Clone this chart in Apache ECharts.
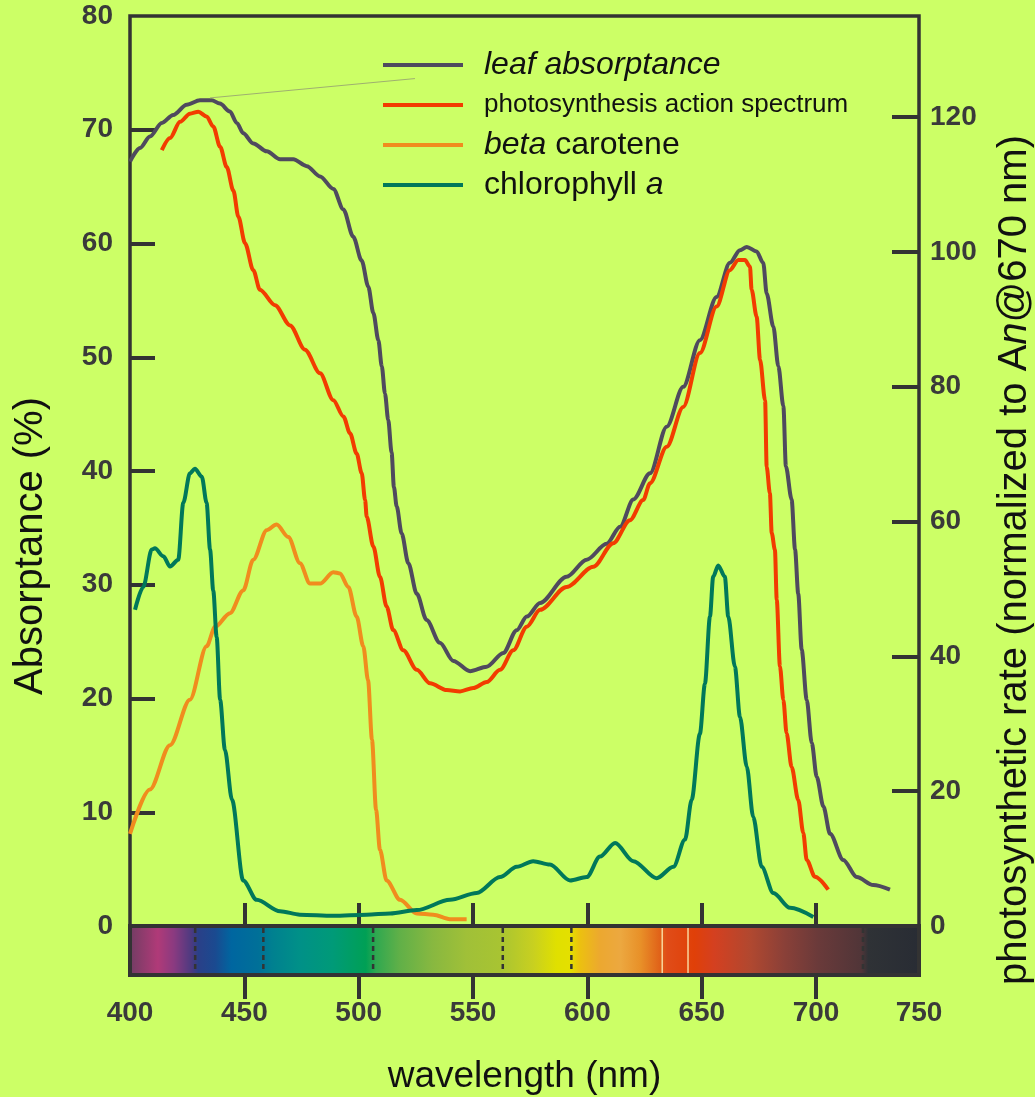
<!DOCTYPE html>
<html>
<head>
<meta charset="utf-8">
<title>Leaf absorptance and photosynthesis action spectrum</title>
<script src="https://cdn.jsdelivr.net/npm/echarts@6.0.0/dist/echarts.min.js"></script>
<style>
  html, body { margin: 0; padding: 0; background: #ccff66; }
  #chart { width: 1035px; height: 1097px; }
</style>
</head>
<body>
<div id="chart"></div>
<script>
// wavelength (nm), value
const leafAbsorptance = [
  [400, 67.2], [404.4, 68.4], [408.7, 69.4], [413.9, 70.6], [418.9, 71.3], [424.8, 72.2],
  [430.6, 72.6], [435.7, 72.6], [439.3, 72.3], [443.7, 71.6], [446.7, 70.6], [449.5, 69.7],
  [453.9, 68.8], [459.8, 68.1], [465.6, 67.4], [471.4, 67.4], [477.3, 66.8], [483.1, 65.9],
  [488.9, 64.8], [493.3, 63.0], [497.6, 60.6], [501.3, 58.5], [504.2, 56.2], [506.4, 53.9],
  [508.6, 51.5], [510.1, 49.2], [511.5, 46.8], [512.9, 44.5], [514.4, 41.6], [515.4, 38.6],
  [516.6, 36.9], [518.8, 34.5], [521.7, 31.9], [525.4, 29.2], [529.7, 26.9], [535.5, 24.9],
  [541.4, 23.3], [548.7, 22.4], [556.0, 22.8], [563.2, 24.0], [569.1, 26.0], [573.5, 27.2],
  [579.3, 28.4], [590.9, 30.7], [599.7, 32.2], [608.4, 33.6], [614.3, 35.1], [620.1, 37.5],
  [627.4, 39.8], [634.7, 43.9], [641.9, 47.4], [649.2, 51.5], [656.5, 55.3], [662.3, 58.3],
  [666.7, 59.4], [669.7, 59.7], [674.0, 59.3], [676.9, 58.3], [678.4, 55.6], [681.3, 52.7],
  [683.5, 49.2], [685.7, 45.7], [686.8, 40.4], [689.3, 37.5], [690.8, 33.1], [692.2, 29.2],
  [693.7, 24.3], [695.9, 19.9], [698.1, 16.1], [700.3, 13.1], [703.2, 10.5], [706.1, 8.1],
  [711.9, 5.8], [717.8, 4.3], [725.0, 3.6], [732.3, 3.2]
]

// right axis, normalized to An@670
const actionSpectrum = [
  [413.9, 115.1], [417.5, 116.9], [421.9, 119.3], [426.2, 120.5], [429.9, 120.8], [433.5, 120.1],
  [436.4, 118.6], [439.4, 115.6], [442.3, 112.6], [445.2, 109.1], [447.4, 105.2], [450.3, 101.3],
  [453.9, 97.3], [456.8, 94.4], [463.4, 92.1], [470.0, 89.1], [476.5, 85.5], [483.1, 82.0],
  [488.9, 78.0], [493.3, 75.6], [496.2, 73.1], [499.1, 70.1], [501.3, 67.2], [502.8, 63.2],
  [503.5, 60.7], [506.4, 56.3], [509.3, 51.8], [512.2, 47.4], [515.1, 43.9], [519.5, 40.9],
  [525.4, 38.0], [531.2, 36.0], [538.5, 35.0], [544.3, 34.8], [550.1, 35.3], [556.0, 36.2],
  [561.8, 38.0], [567.6, 40.9], [573.5, 44.4], [579.3, 46.9], [590.9, 50.3], [602.6, 53.3],
  [611.3, 56.8], [618.6, 60.2], [624.4, 63.2], [627.4, 65.7], [634.7, 71.1], [641.9, 77.0],
  [649.2, 85.0], [656.5, 91.9], [662.3, 97.3], [666.0, 98.8], [668.9, 98.8], [671.1, 97.8],
  [671.8, 94.4], [674.0, 90.4], [675.5, 84.0], [677.7, 78.0], [678.4, 68.1], [679.8, 64.2],
  [680.6, 58.3], [682.0, 55.8], [682.8, 48.4], [684.2, 38.5], [685.7, 33.5], [687.1, 28.6],
  [689.3, 23.6], [692.2, 18.7], [694.4, 13.8], [695.9, 9.8], [699.5, 7.3], [705.3, 5.4]
]

const betaCarotene = [
  [400, 8.1], [408.7, 12.0], [417.5, 15.9], [426.2, 19.9], [433.5, 24.6], [437.2, 26.3],
  [443.7, 27.5], [449.5, 29.5], [453.9, 32.2], [459.8, 34.8], [464.1, 35.3], [469.2, 34.2],
  [474.3, 31.9], [478.7, 30.1], [483.1, 30.1], [488.9, 31.1], [491.8, 31.0], [495.5, 29.8],
  [499.1, 27.2], [502.0, 24.6], [504.1, 21.6], [505.8, 16.4], [507.6, 10.2], [509.3, 6.7],
  [512.2, 4.0], [518.1, 2.3], [525.4, 1.1], [532.6, 1.0], [539.9, 0.6], [547.2, 0.6]
]

const chlorophyllA = [
  [402.2, 27.8], [405.8, 29.8], [409.5, 33.1], [410.9, 33.2], [414.6, 32.5], [417.5, 31.6],
  [421.1, 32.2], [423.3, 37.2], [426.2, 39.8], [428.4, 40.2], [431.4, 39.5], [433.5, 37.2],
  [435.0, 33.1], [436.4, 29.5], [437.9, 25.4], [439.4, 19.9], [441.5, 15.5], [444.6, 11.1],
  [449.5, 4.0], [455.4, 2.3], [465.6, 1.3], [474.3, 1.0], [488.9, 0.9], [503.5, 1.0],
  [513.7, 1.1], [525.4, 1.4], [539.9, 2.3], [551.6, 2.9], [561.8, 4.3], [569.1, 5.2],
  [576.3, 5.7], [583.6, 5.4], [592.4, 4.0], [599.7, 4.3], [605.5, 6.1], [612.1, 7.3],
  [620.1, 5.7], [630.3, 4.2], [637.6, 5.2], [642.7, 7.6], [645.6, 11.1], [649.2, 16.9],
  [651.4, 21.3], [653.6, 27.2], [655.0, 30.7], [657.2, 31.7], [660.1, 30.7], [661.6, 27.2],
  [664.5, 22.8], [666.7, 18.4], [669.7, 14.0], [672.5, 9.6], [676.2, 5.2], [681.3, 2.9],
  [688.6, 1.6], [698.8, 0.8]
]

// thin pointer from the leaf peak towards the legend
const leaderLine = [[435, 72.8], [524.6, 74.5]]

const xMin = 400
const xMax = 745
const xTickValues = [450, 500, 550, 600, 650, 700]
const xLabelValues = [400, 450, 500, 550, 600, 650, 700, 745]
const leftTickValues = [10, 20, 30, 40, 50, 60, 70]
const rightTickValues = [20, 40, 60, 80, 100, 120]

// colour strip under the plot
const spectrumStops = [
  [400, '#6e3d62'], [413, '#b03a78'], [420, '#8a3a80'], [427.6, '#4c3a80'], [430.6, '#2a4088'],
  [438, '#1a4a90'], [445, '#0066a0'], [456.8, '#007098'], [462.7, '#008090'], [474.3, '#009088'],
  [489, '#009a78'], [503.5, '#00a055'], [508, '#30a850'], [518, '#60b048'], [532.6, '#88b840'],
  [547.2, '#a0c038'], [561.8, '#a8c432'], [576.3, '#c8d020'], [586.5, '#e0e000'], [592.4, '#e4e000'],
  [596.8, '#ecc010'], [605.5, '#eca830'], [614.3, '#eca840'], [623, '#e89028'], [631.7, '#e06018'],
  [634.7, '#e04c18'], [646.3, '#e04008'], [655, '#d44020'], [671, '#b04830'], [685.6, '#8a4038'],
  [700.3, '#6a3a3a'], [719.2, '#503538'], [722, '#2f3236'], [745, '#282c34']
]
const dashedDividers = [428.5, 458.3, 506.3, 563, 593, 720.5]
const whiteDividers = [632.7, 644]

const ink = '#333333'
const labelColor = '#3a3a3a'
const titleColor = '#111111'

const legendText = {
  'leaf absorptance': '{i|leaf absorptance}',
  'photosynthesis action spectrum': '{s|photosynthesis action spectrum}',
  'beta carotene': '{i|beta} {n|carotene}',
  'chlorophyll a': '{n|chlorophyll} {i|a}'
}

function lineSeries(name, data, color, yAxisIndex) {
  return {
    name,
    type: 'line',
    xAxisIndex: 0,
    yAxisIndex,
    data,
    symbol: 'none',
    smooth: 0.3,
    smoothMonotone: 'x',
    lineStyle: { width: 4, color },
    itemStyle: { color }
  }
}

function dividerSeries(values, stroke, width, dash) {
  return {
    type: 'custom',
    xAxisIndex: 2,
    yAxisIndex: 2,
    silent: true,
    z: 4,
    data: values.map(v => [v]),
    renderItem(params, api) {
      const top = api.coord([api.value(0), 1])
      const bottom = api.coord([api.value(0), 0])
      return {
        type: 'line',
        shape: { x1: top[0], y1: top[1] + 2, x2: bottom[0], y2: bottom[1] - 2 },
        style: { stroke, lineWidth: width, lineDash: dash }
      }
    }
  }
}

const chart = echarts.init(document.getElementById('chart'))

const gradient = new echarts.graphic.LinearGradient(
  0, 0, 1, 0,
  spectrumStops.map(([w, c]) => ({ offset: (w - xMin) / (xMax - xMin), color: c }))
)

chart.setOption({
  backgroundColor: '#ccff66',
  animation: false,
  textStyle: { fontFamily: '"Liberation Sans", Arial, sans-serif' },
  legend: {
    orient: 'vertical',
    left: 383,
    top: 48,
    padding: 0,
    itemWidth: 80,
    itemHeight: 4,
    itemGap: 6,
    icon: 'rect',
    selectedMode: false,
    data: ['leaf absorptance', 'photosynthesis action spectrum', 'beta carotene', 'chlorophyll a'],
    formatter: name => legendText[name],
    textStyle: {
      color: titleColor,
      fontSize: 32,
      lineHeight: 34,
      padding: [0, 0, 0, 16],
      rich: {
        i: { fontStyle: 'italic', fontSize: 32, color: titleColor },
        n: { fontSize: 32, color: titleColor },
        s: { fontSize: 26, color: titleColor }
      }
    }
  },
  grid: [
    {
      left: 130, right: 116, top: 16, height: 910,
      show: true, borderColor: ink, borderWidth: 3.5, backgroundColor: 'transparent',
      outerBoundsMode: 'none'
    },
    { left: 130, right: 116, top: 926, height: 49, outerBoundsMode: 'none' }
  ],
  xAxis: [
    {
      type: 'value', gridIndex: 0, position: 'bottom', min: xMin, max: xMax,
      axisLine: { show: false },
      axisTick: { inside: true, length: 23, customValues: xTickValues, lineStyle: { color: ink, width: 4 } },
      axisLabel: { show: false },
      splitLine: { show: false }
    },
    {
      type: 'value', gridIndex: 0, position: 'top', min: xMin, max: xMax,
      axisLine: { show: false },
      axisTick: { inside: true, length: 24, customValues: xTickValues, lineStyle: { color: ink, width: 4 } },
      axisLabel: { show: false },
      splitLine: { show: false }
    },
    {
      type: 'value', gridIndex: 1, position: 'bottom', min: xMin, max: xMax,
      axisLine: { show: false },
      axisTick: { inside: false, length: 24, customValues: xTickValues, lineStyle: { color: ink, width: 4 } },
      axisLabel: {
        customValues: xLabelValues,
        formatter: v => (v >= xMax ? '750' : String(v)),
        color: labelColor, fontSize: 28, fontWeight: 'bold', margin: 24
      },
      splitLine: { show: false },
      name: 'wavelength (nm)',
      nameLocation: 'middle',
      nameGap: 83,
      nameMoveOverlap: false,
      nameTextStyle: { fontSize: 37, color: titleColor }
    }
  ],
  yAxis: [
    {
      type: 'value', gridIndex: 0, position: 'left', min: 0, max: 80, interval: 10,
      axisLine: { show: false },
      axisTick: { inside: true, length: 25, customValues: leftTickValues, lineStyle: { color: ink, width: 4 } },
      axisLabel: { color: labelColor, fontSize: 28, fontWeight: 'bold', margin: 17 },
      splitLine: { show: false },
      name: 'Absorptance (%)',
      nameLocation: 'middle',
      nameRotate: 90,
      nameGap: 79,
      nameMoveOverlap: false,
      nameTextStyle: { fontSize: 40, color: titleColor, padding: [0, 150, 0, 0] }
    },
    {
      type: 'value', gridIndex: 0, position: 'right', min: 0, max: 135, interval: 20,
      axisLine: { show: false },
      axisTick: { inside: true, length: 27, customValues: rightTickValues, lineStyle: { color: ink, width: 4 } },
      axisLabel: { color: labelColor, fontSize: 28, fontWeight: 'bold', margin: 11, showMaxLabel: false },
      splitLine: { show: false },
      name: '{n|photosynthetic rate (normalized to A}{i|n}{n|@670 nm)}',
      nameLocation: 'middle',
      nameRotate: 90,
      nameGap: 76,
      nameMoveOverlap: false,
      nameTextStyle: {
        fontSize: 40, color: titleColor, padding: [0, 178, 0, 0],
        rich: {
          n: { fontSize: 40, color: titleColor },
          i: { fontSize: 40, color: titleColor, fontStyle: 'italic' }
        }
      }
    },
    {
      type: 'value', gridIndex: 1, min: 0, max: 1, show: false
    }
  ],
  series: [
    {
      ...lineSeries('leaf absorptance', leafAbsorptance, '#4f4a5e', 0),
      markLine: {
        silent: true,
        symbol: 'none',
        label: { show: false },
        lineStyle: { color: '#9fb070', width: 1, type: 'solid' },
        data: [[{ coord: leaderLine[0] }, { coord: leaderLine[1] }]]
      }
    },
    lineSeries('photosynthesis action spectrum', actionSpectrum, '#f23c00', 1),
    lineSeries('beta carotene', betaCarotene, '#f08c1e', 0),
    lineSeries('chlorophyll a', chlorophyllA, '#00785a', 0),
    {
      type: 'custom',
      xAxisIndex: 2,
      yAxisIndex: 2,
      silent: true,
      z: 3,
      data: [[xMin, xMax]],
      renderItem(params, api) {
        const start = api.coord([api.value(0), 0])
        const end = api.coord([api.value(1), 1])
        return {
          type: 'rect',
          shape: { x: start[0], y: end[1], width: end[0] - start[0], height: start[1] - end[1] },
          style: { fill: gradient, stroke: ink, lineWidth: 4 }
        }
      }
    },
    dividerSeries(dashedDividers, ink, 2.5, [5, 4]),
    dividerSeries(whiteDividers, '#fff8c0', 1.2, null)
  ]
})

window.addEventListener('resize', () => chart.resize())
</script>
</body>
</html>
